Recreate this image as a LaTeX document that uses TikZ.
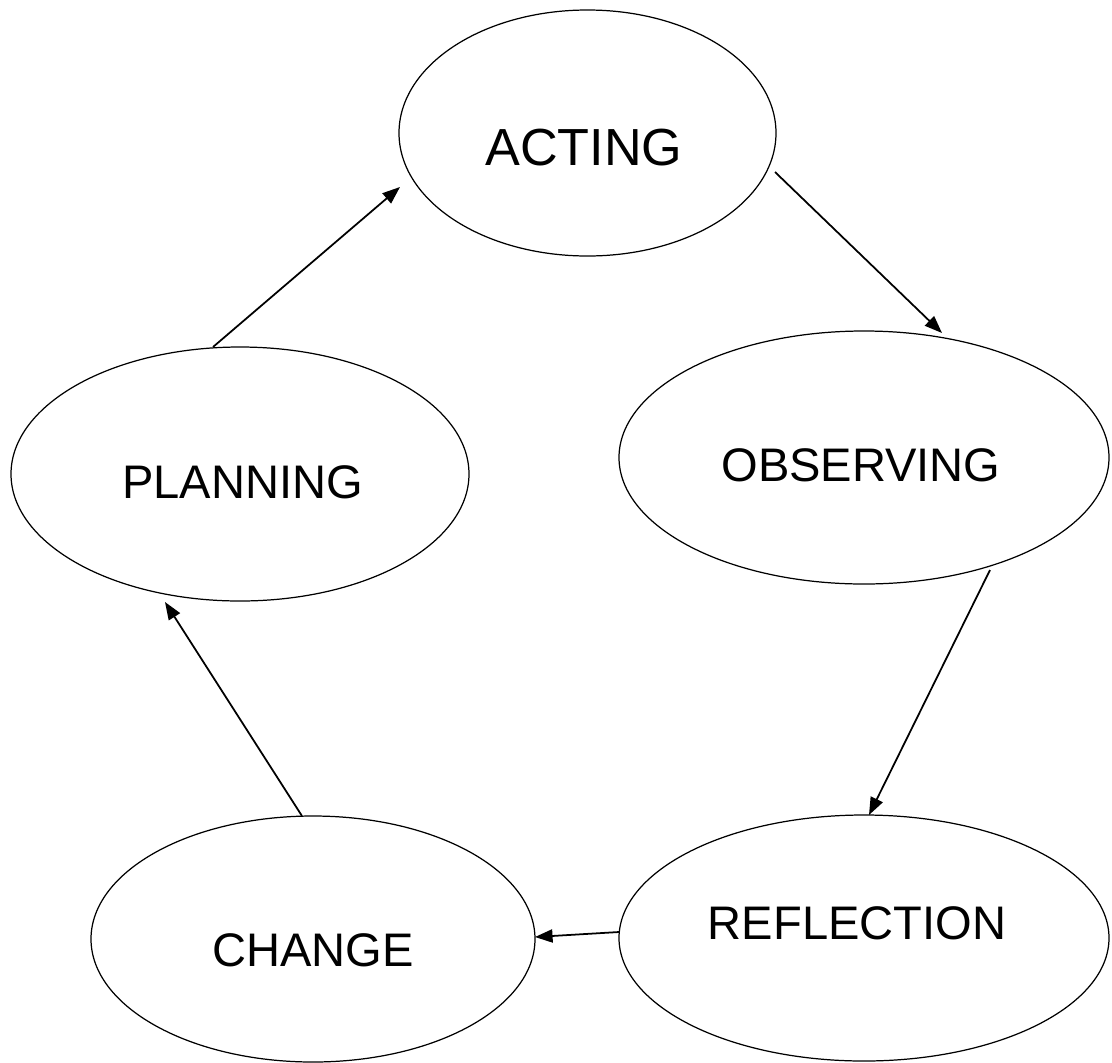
\documentclass[tikz,border=0pt]{standalone}
\usepackage{fontspec}
\setmainfont{Liberation Sans}
\usetikzlibrary{calc,arrows.meta,shapes.geometric}
\begin{document}
\begin{tikzpicture}[x={(0.02cm,0)},y={(0,-0.02cm)},
  stage/.style={draw,ellipse,line width=0.7pt,inner sep=0pt,outer sep=0pt},
  stagetext/.style={inner sep=0pt,font=\fontsize{26.8}{30}\selectfont},
  arr/.style={line width=1pt,-{Triangle[length=10pt,width=7.5pt]}}]
\useasboundingbox (0,0) rectangle (1112,1062);
\node[stage,minimum width=377*0.02cm,minimum height=246*0.02cm] (act) at (587.5,133) {};
\node[stage,minimum width=490*0.02cm,minimum height=253*0.02cm] (obs) at (864,457.5) {};
\node[stage,minimum width=458*0.02cm,minimum height=254*0.02cm] (plan) at (240,474) {};
\node[stage,minimum width=490*0.02cm,minimum height=246*0.02cm] (refl) at (864,938) {};
\node[stage,minimum width=444*0.02cm,minimum height=246*0.02cm] (chg) at (313,939) {};
\node[stagetext,font=\fontsize{29.7}{33}\selectfont] (tact) at (584,147.5) {ACTING};
\node[stagetext] (tobs) at (861,465.5) {OBSERVING};
\node[stagetext] (tplan) at (242.5,482) {PLANNING};
\node[stagetext] (trefl) at (857,923) {REFLECTION};
\node[stagetext] (tchg) at (313,950.5) {CHANGE};
\draw[arr] ($(plan.center)+(-27,-127)$) -- ($(act.center)+(-187.5,54)$);
\draw[arr] ($(act.center)+(187.5,39)$) -- ($(obs.center)+(78,-124.5)$);
\draw[arr] ($(obs.center)+(126,112.5)$) -- ($(refl.center)+(5,-123)$);
\draw[arr] ($(refl.center)+(-245,-6)$) -- ($(chg.center)+(222,-2)$);
\draw[arr] ($(chg.center)+(-11,-123)$) -- ($(plan.center)+(-75,128)$);
\end{tikzpicture}
\end{document}
